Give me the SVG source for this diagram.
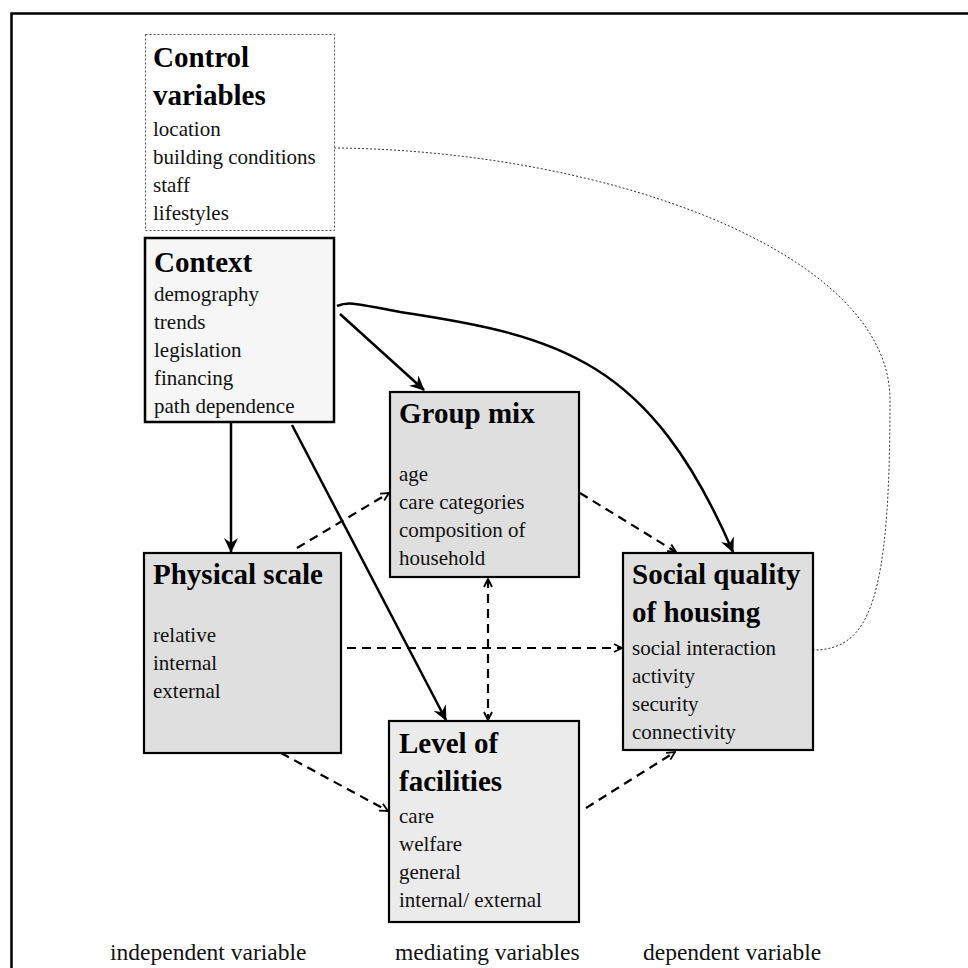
<svg xmlns="http://www.w3.org/2000/svg" width="968" height="968" viewBox="0 0 968 968">
<defs>
<style>
.t{font-family:"Liberation Serif","Times New Roman",serif;font-size:21px;fill:#111}
.h{font-family:"Liberation Serif","Times New Roman",serif;font-size:29px;font-weight:bold;fill:#000}
.lbl{font-family:"Liberation Serif","Times New Roman",serif;font-size:23.5px;fill:#111}
.box{stroke:#000;stroke-width:2.2}
.solid{fill:none;stroke:#000;stroke-width:2.5}
.dash{fill:none;stroke:#000;stroke-width:2.2;stroke-dasharray:9 6}
.dot{fill:none;stroke:#333;stroke-width:1;stroke-dasharray:2 2}
</style>
<marker id="ah" viewBox="0 0 15 14" refX="14" refY="7" markerWidth="15" markerHeight="14" markerUnits="userSpaceOnUse" orient="auto">
<path d="M0,0 L15,7 L0,14 L5,7 z" fill="#000"/>
</marker>
<marker id="dh" viewBox="0 0 10 10" refX="9" refY="5" markerWidth="10" markerHeight="10" markerUnits="userSpaceOnUse" orient="auto-start-reverse">
<path d="M1,1 L9,5 L1,9" fill="none" stroke="#000" stroke-width="1.8" stroke-dasharray="none"/>
</marker>
</defs>
<rect width="968" height="968" fill="#fff"/>
<path d="M11.5,968 V13.5 H968" fill="none" stroke="#000" stroke-width="2.5"/>

<g id="connectors">
<path class="solid" d="M231,423 V552" marker-end="url(#ah)"/>
<path class="solid" d="M292,425 L446,720" marker-end="url(#ah)"/>
<path class="solid" d="M340,314 L424,390" marker-end="url(#ah)"/>
<path class="solid" d="M337,306 C 350,300 365,306 400,312 C 560,336 650,360 733,552" marker-end="url(#ah)"/>
<path class="dash" d="M297,548 L389,493" marker-end="url(#dh)"/>
<path class="dash" d="M580,493 L676,552" marker-end="url(#dh)"/>
<path class="dash" d="M347,648 L622,648" marker-end="url(#dh)"/>
<path class="dash" d="M488,579 L488,720" marker-start="url(#dh)" marker-end="url(#dh)"/>
<path class="dash" d="M281,753 L388,811" marker-end="url(#dh)"/>
<path class="dash" d="M586,808 L675,752" marker-end="url(#dh)"/>
<path class="dot" d="M334,148 C 600,150 890,250 890,400 C 890,600 870,650 813,650"/>
</g>

<g id="control">
<rect x="145.5" y="34.5" width="189" height="196" fill="#fff" stroke="#555" stroke-width="1" stroke-dasharray="2 2"/>
<text class="h" x="153" y="67">Control</text>
<text class="h" x="153" y="105">variables</text>
<text class="t" x="153" y="136">location</text>
<text class="t" x="153" y="164">building conditions</text>
<text class="t" x="153" y="192">staff</text>
<text class="t" x="153" y="220">lifestyles</text>
</g>

<g id="context">
<rect x="145" y="238" width="189" height="184" fill="#f6f6f6" stroke="#000" stroke-width="2.5"/>
<text class="h" x="154" y="272">Context</text>
<text class="t" x="154" y="301">demography</text>
<text class="t" x="154" y="329">trends</text>
<text class="t" x="154" y="357">legislation</text>
<text class="t" x="154" y="385">financing</text>
<text class="t" x="154" y="413">path dependence</text>
</g>

<g id="groupmix">
<rect class="box" x="390" y="392" width="189" height="185" fill="#dfdfdf"/>
<text class="h" x="399" y="423">Group mix</text>
<text class="t" x="399" y="481">age</text>
<text class="t" x="399" y="509">care categories</text>
<text class="t" x="399" y="537">composition of</text>
<text class="t" x="399" y="565">household</text>
</g>

<g id="physical">
<rect class="box" x="144" y="553" width="197" height="200" fill="#dfdfdf"/>
<text class="h" x="153" y="584">Physical scale</text>
<text class="t" x="153" y="642">relative</text>
<text class="t" x="153" y="670">internal</text>
<text class="t" x="153" y="698">external</text>
</g>

<g id="social">
<rect class="box" x="623" y="553" width="190" height="197" fill="#dfdfdf"/>
<text class="h" x="632" y="584">Social quality</text>
<text class="h" x="632" y="622">of housing</text>
<text class="t" x="632" y="655">social interaction</text>
<text class="t" x="632" y="683">activity</text>
<text class="t" x="632" y="711">security</text>
<text class="t" x="632" y="739">connectivity</text>
</g>

<g id="facilities">
<rect class="box" x="389" y="721" width="190" height="201" fill="#ebebeb"/>
<text class="h" x="399" y="753">Level of</text>
<text class="h" x="399" y="791">facilities</text>
<text class="t" x="399" y="823">care</text>
<text class="t" x="399" y="851">welfare</text>
<text class="t" x="399" y="879">general</text>
<text class="t" x="399" y="907">internal/ external</text>
</g>

<g id="labels">
<text class="lbl" x="110" y="960">independent variable</text>
<text class="lbl" x="395" y="960">mediating variables</text>
<text class="lbl" x="643" y="960">dependent variable</text>
</g>
</svg>
